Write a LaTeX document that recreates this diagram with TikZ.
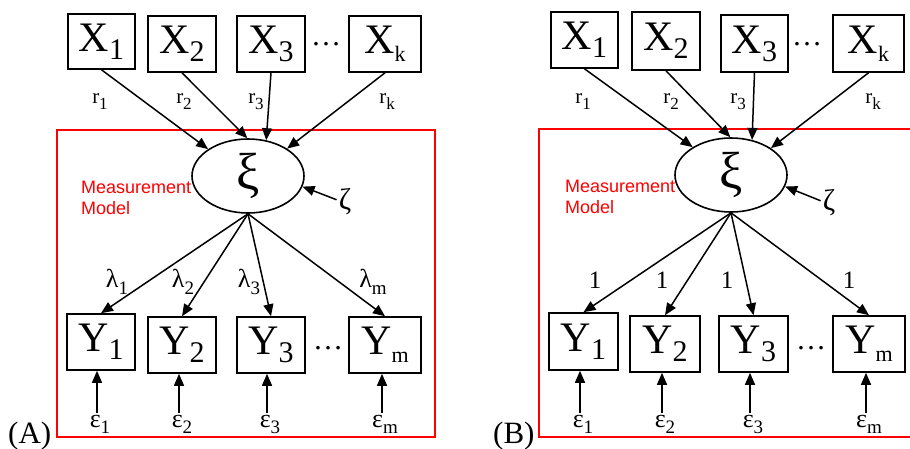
\documentclass[tikz,border=0pt]{standalone}
\usepackage{fontspec}
\setmainfont{Liberation Serif}
\newfontfamily\sansf{Liberation Sans}
\usetikzlibrary{shapes.geometric,arrows.meta}
\newcommand\biglab[3]{{\fontsize{42}{42}\selectfont #1\raisebox{-8pt}{\fontsize{#2}{#2}\selectfont #3}}}
\newcommand\rlab[1]{{\fontsize{21}{21}\selectfont r\raisebox{-6pt}{\fontsize{17}{17}\selectfont #1}}}
\newcommand\llab[1]{{\fontsize{26}{26}\selectfont λ\raisebox{-7pt}{\fontsize{19}{19}\selectfont #1}}}
\newcommand\elab[1]{{\fontsize{26}{26}\selectfont ε\raisebox{-6pt}{\fontsize{19}{19}\selectfont #1}}}
\begin{document}
\begin{tikzpicture}[x=1pt,y=-1pt,
  box/.style={draw, line width=1.6pt, inner sep=0pt, minimum width=68pt, minimum height=56pt},
  lat/.style={draw, ellipse, line width=1.6pt, minimum width=112pt, minimum height=74pt, inner sep=0pt},
  arr/.style={line width=1.5pt, -{Triangle[length=12pt,width=10pt]}},
  redbox/.style={draw=red, line width=1.5pt},
  lbl/.style={inner sep=0pt, anchor=base},
  mm/.style={text=red, inner sep=0pt, anchor=base west, align=left, font=\sansf\fontsize{18}{21}\selectfont},
  dots/.style={inner sep=0pt, font=\fontsize{30}{30}\selectfont},
  panel/.style={inner sep=0pt, anchor=base west, font=\fontsize{31}{31}\selectfont},
  greek/.style={inner sep=2pt, font=\fontsize{30}{30}\selectfont}]
\useasboundingbox (0,0) rectangle (910,448);
\fill[white] (0,0) rectangle (910,448);

% ---------------- Panel A ----------------
\draw[redbox] (57,130) rectangle (435,437);
\node[mm] (mmA) at (81,214) {Measurement\\Model};
\node[panel] (pA) at (8,443) {(A)};

\node[box, minimum width=67pt, minimum height=55pt] (aX1) at (101.5,41.5) {\biglab{X}{30}{1}};
\node[box] (aX2) at (182,44) {\biglab{X}{30}{2}};
\node[box] (aX3) at (271,44) {\biglab{X}{30}{3}};
\node[box, minimum width=72pt] (aXk) at (385,44) {\biglab{X}{22}{k}};
\node[dots] (adx) at (326,44) {…};

\node[box] (aY1) at (101,342) {\biglab{Y}{30}{1}};
\node[box] (aY2) at (182,345) {\biglab{Y}{30}{2}};
\node[box] (aY3) at (271,345) {\biglab{Y}{30}{3}};
\node[box, minimum width=72pt] (aYm) at (385,345) {\biglab{Y}{22}{m}};
\node[dots] (ady) at (328,348) {…};

\node[lat] (axi) at (248,176) {\fontsize{52}{52}\selectfont ξ};
\node[greek] (aze) at (345,202) {ζ};

\node[lbl] (ar1) at (100,103) {\rlab{1}};
\node[lbl] (ar2) at (184,103) {\rlab{2}};
\node[lbl] (ar3) at (256,103) {\rlab{3}};
\node[lbl] (ark) at (387,103) {\rlab{k}};

\node[lbl] (al1) at (117,287) {\llab{1}};
\node[lbl] (al2) at (183,287) {\llab{2}};
\node[lbl] (al3) at (249,287) {\llab{3}};
\node[lbl] (alm) at (373,287) {\llab{m}};

\node[lbl, inner sep=2pt] (ae1) at (100,427) {\elab{1}};
\node[lbl, inner sep=2pt] (ae2) at (182,427) {\elab{2}};
\node[lbl, inner sep=2pt] (ae3) at (270,427) {\elab{3}};
\node[lbl, inner sep=2pt] (aem) at (385,427) {\elab{m}};

\draw[arr] (aX1.south) -- (axi.146);
\draw[arr] (aX2.south) -- (axi.91);
\draw[arr] (aX3.south) -- (axi.63);
\draw[arr] (aXk.south) -- (axi.35);
\draw[arr] (aze.165) -- (axi.-11);
\draw[arr] (axi.south) -- (aY1.north);
\draw[arr] (axi.south) -- (aY2.north);
\draw[arr] (axi.south) -- (aY3.north);
\draw[arr] (axi.south) -- (aYm.north);
\draw[arr] ([xshift=-3pt]ae1.north) -- ([xshift=-3pt]ae1.north |- aY1.south);
\draw[arr] ([xshift=-3pt]ae2.north) -- ([xshift=-3pt]ae2.north |- aY2.south);
\draw[arr] ([xshift=-3pt]ae3.north) -- ([xshift=-3pt]ae3.north |- aY3.south);
\draw[arr] ([xshift=-3pt]aem.north) -- ([xshift=-3pt]aem.north |- aYm.south);

% ---------------- Panel B ----------------
\draw[redbox] (912,129) -- (539,129) -- (539,437) -- (912,437);
\node[mm] (mmB) at (565,213) {Measurement\\Model};
\node[panel] (pB) at (493,443) {(B)};

\node[box, minimum width=67pt] (bX1) at (584.5,40) {\biglab{X}{30}{1}};
\node[box, minimum height=58pt] (bX2) at (666,41) {\biglab{X}{30}{2}};
\node[box, minimum width=67pt, minimum height=57pt] (bX3) at (754.5,43.5) {\biglab{X}{30}{3}};
\node[box, minimum width=71pt, minimum height=57pt] (bXk) at (868.5,43.5) {\biglab{X}{22}{k}};
\node[dots] (bdx) at (807,44) {…};

\node[box, minimum width=69pt, minimum height=57pt] (bY1) at (583.5,341.5) {\biglab{Y}{30}{1}};
\node[box, minimum width=70pt] (bY2) at (665,344) {\biglab{Y}{30}{2}};
\node[box, minimum width=69pt] (bY3) at (753.5,344) {\biglab{Y}{30}{3}};
\node[box, minimum width=72pt] (bYm) at (869,344) {\biglab{Y}{22}{m}};
\node[dots] (bdy) at (811,348) {…};

\node[lat] (bxi) at (731,175) {\fontsize{52}{52}\selectfont ξ};
\node[greek] (bze) at (829,203) {ζ};

\node[lbl] (br1) at (583,103) {\rlab{1}};
\node[lbl] (br2) at (671,103) {\rlab{2}};
\node[lbl] (br3) at (738,103) {\rlab{3}};
\node[lbl] (brk) at (873,103) {\rlab{k}};

\node[lbl, font=\fontsize{25}{25}\selectfont] (bl1) at (595,288) {1};
\node[lbl, font=\fontsize{25}{25}\selectfont] (bl2) at (662,288) {1};
\node[lbl, font=\fontsize{25}{25}\selectfont] (bl3) at (727,288) {1};
\node[lbl, font=\fontsize{25}{25}\selectfont] (blm) at (849,288) {1};

\node[lbl, inner sep=2pt] (be1) at (583,427) {\elab{1}};
\node[lbl, inner sep=2pt] (be2) at (665,427) {\elab{2}};
\node[lbl, inner sep=2pt] (be3) at (753,427) {\elab{3}};
\node[lbl, inner sep=2pt] (bem) at (869,427) {\elab{m}};

\draw[arr] (bX1.south) -- (bxi.144);
\draw[arr] (bX2.south) -- (bxi.91);
\draw[arr] (bX3.south) -- (bxi.59);
\draw[arr] (bXk.south) -- (bxi.34);
\draw[arr] (bze.165) -- (bxi.-12);
\draw[arr] (bxi.south) -- (bY1.north);
\draw[arr] (bxi.south) -- (bY2.north);
\draw[arr] (bxi.south) -- (bY3.north);
\draw[arr] (bxi.south) -- (bYm.north);
\draw[arr] ([xshift=-3pt]be1.north) -- ([xshift=-3pt]be1.north |- bY1.south);
\draw[arr] ([xshift=-3pt]be2.north) -- ([xshift=-3pt]be2.north |- bY2.south);
\draw[arr] ([xshift=-3pt]be3.north) -- ([xshift=-3pt]be3.north |- bY3.south);
\draw[arr] ([xshift=-3pt]bem.north) -- ([xshift=-3pt]bem.north |- bYm.south);
\end{tikzpicture}
\end{document}
